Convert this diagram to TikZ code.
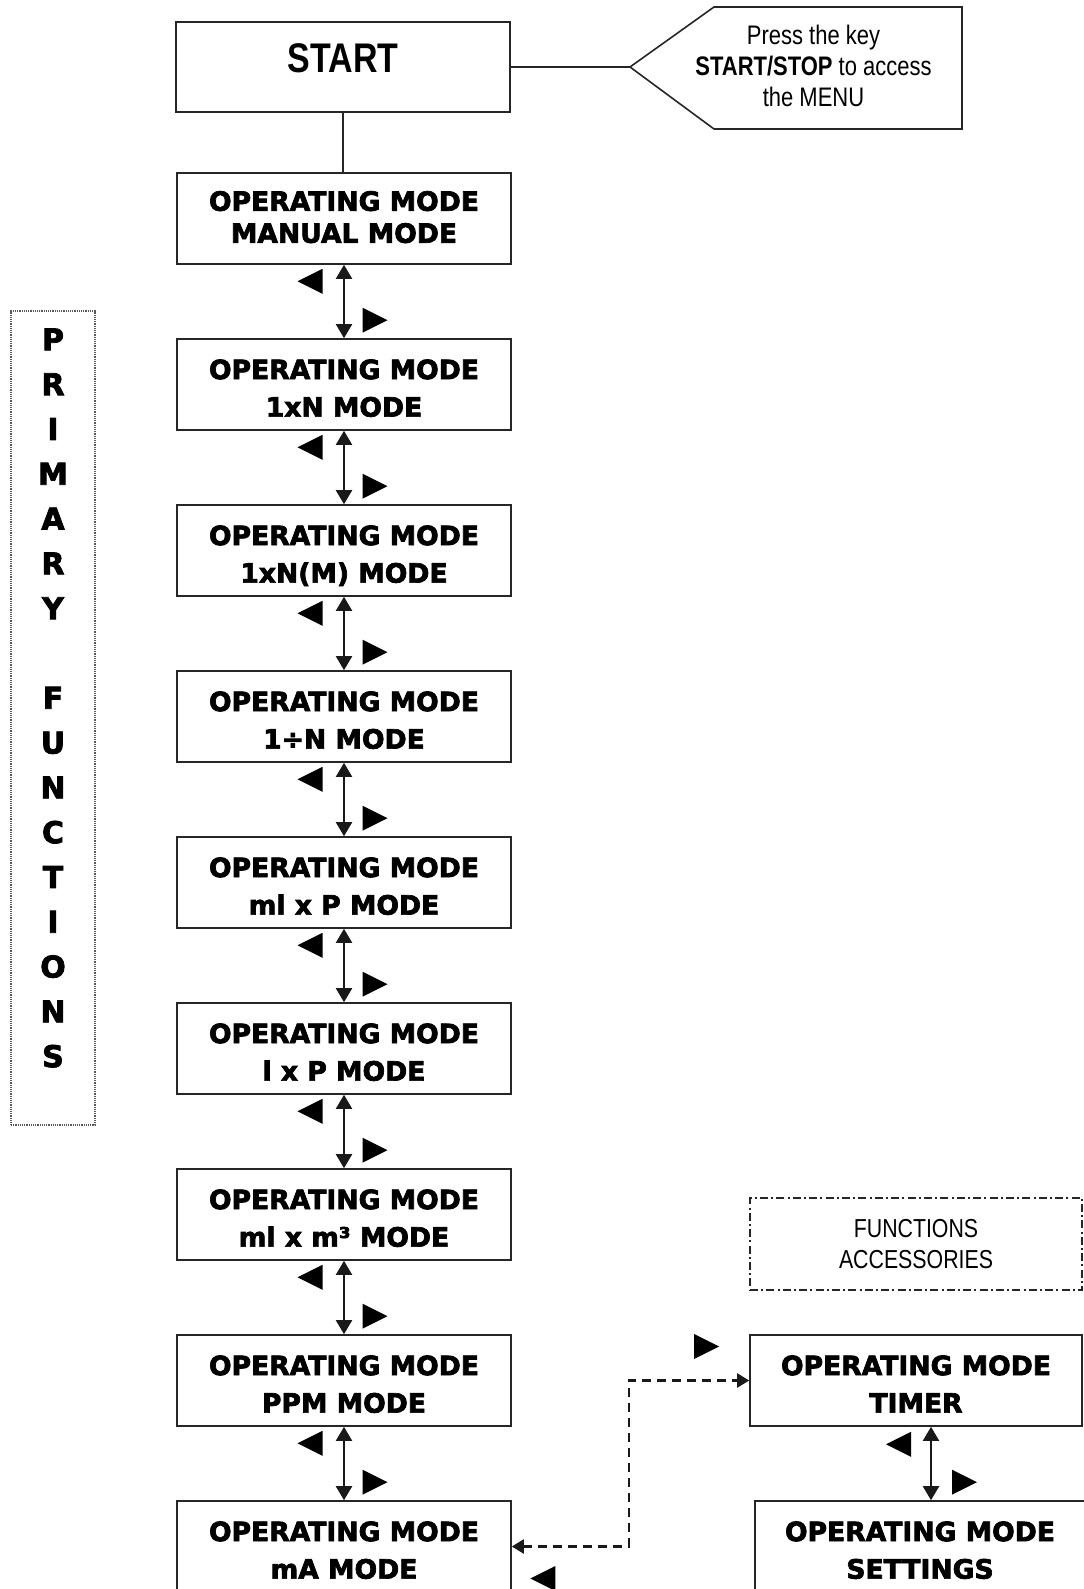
\documentclass[tikz,border=0pt]{standalone}
\usepackage{fontspec}
\setmainfont{Liberation Sans}
\newfontfamily\narrowfont{Liberation Sans}[FakeStretch=0.82]
\newfontfamily\heavyfont{DejaVu Sans}[BoldFeatures={FakeBold=2.6}]
\usetikzlibrary{arrows.meta,calc}

% two-line caption used in every operating-mode box
\newcommand\modetext[1]{\rule{0pt}{19pt}OPERATING MODE\\#1\strut}
% filled navigation triangles (left / right key symbols)
\newcommand\navleft[1]{\fill ($#1$) ++(-12.5,0) -- ++(25,-12.5) -- ++(0,25) -- cycle;}
\newcommand\navright[1]{\fill ($#1$) ++(12.5,0) -- ++(-25,-12.5) -- ++(0,25) -- cycle;}

\tikzset{
  frame/.style={draw=black!85, line width=0.8pt},
  modebox/.style={frame, minimum width=167pt, minimum height=45.5pt,
    inner sep=0pt, align=center,
    font=\heavyfont\bfseries\fontsize{13.3}{18.75}\selectfont},
  startbox/.style={frame, minimum width=167pt, minimum height=45pt,
    inner sep=0pt, text height=6pt, text depth=0pt,
    font=\narrowfont\bfseries\fontsize{20.7}{25}\selectfont},
  notetext/.style={align=center, inner sep=0pt,
    font=\narrowfont\fontsize{13.4}{15.5}\selectfont},
  groupdotted/.style={draw=black!65, line width=1pt,
    dash pattern=on 0.6pt off 0.5pt, minimum width=42pt, minimum height=407pt,
    inner sep=0pt},
  groupdashdot/.style={draw=black!85, line width=0.8pt,
    dash pattern=on 4pt off 1.6pt on 1pt off 1.6pt,
    minimum width=166pt, minimum height=46pt, inner sep=0pt, align=center,
    font=\narrowfont\fontsize{13}{15.5}\selectfont},
  navarrow/.style={line width=1pt, black!90,
    {Triangle[width=8pt,length=7pt]}-{Triangle[width=8pt,length=7pt]}},
  dashlink/.style={line width=1.1pt, black!90, dash pattern=on 4.5pt off 3pt,
    {Triangle[width=7pt,length=6pt]}-{Triangle[width=7pt,length=6pt]}},
}

\begin{document}
\begin{tikzpicture}[x=0.5pt, y=-0.5pt]
  \useasboundingbox (0,0) rectangle (1083,1589);
  \fill[white] (0,0) rectangle (1083,1589);

  % start box and its call-out note
  \node[startbox] (start) at (343,67) {START};
  \coordinate (tip) at (630,67);
  \draw[frame, line join=miter] (tip) -- (714,7) -- (962,7) -- (962,129) -- (714,129) -- cycle;
  \node[notetext] (note) at (813.5,65.5)
    {Press the key\\\textbf{START/STOP} to access\\the MENU};
  \draw[frame] (start.east) -- (tip);

  % chain of primary operating modes
  \node[modebox, font=\heavyfont\bfseries\fontsize{13.3}{16}\selectfont] (m1) at (344,218.5)
    {\rule{0pt}{13.1pt}OPERATING MODE\\MANUAL MODE\strut};
  \node[modebox] (m2) at (344,384.5) {\modetext{1xN MODE}};
  \node[modebox] (m3) at (344,550.5) {\modetext{1xN(M) MODE}};
  \node[modebox] (m4) at (344,716.5) {\modetext{1÷N MODE}};
  \node[modebox] (m5) at (344,882.5) {\modetext{ml x P MODE}};
  \node[modebox] (m6) at (344,1048.5) {\modetext{l x P MODE}};
  \node[modebox] (m7) at (344,1214.5) {\modetext{ml x m³ MODE}};
  \node[modebox] (m8) at (344,1380.5) {\modetext{PPM MODE}};
  \node[modebox] (ma) at (344,1546.5) {\modetext{mA MODE}};

  \draw[frame] (start.south) -- (start.south |- m1.north);

  \foreach \a/\b in {m1/m2, m2/m3, m3/m4, m4/m5, m5/m6, m6/m7, m7/m8, m8/ma}{
    \draw[navarrow] (\a.south) -- (\b.north);
    \navleft{(\a.south)+(-34,16.5)}
    \navright{(\b.north)+(31,-18)}
  }

  % group label on the left
  \node[groupdotted] (primary) at (53,718) {};
  \node[align=center, inner sep=0pt,
    font=\heavyfont\bfseries\fontsize{15}{22.4}\selectfont] (primarytext) at (53,698)
    {P\\R\\I\\M\\A\\R\\Y\\\mbox{}\\F\\U\\N\\C\\T\\I\\O\\N\\S};

  % accessory functions on the right
  \node[groupdashdot] (acc) at (916,1244) {FUNCTIONS\\ACCESSORIES};
  \node[modebox, minimum width=166pt] (timer) at (916,1380.5) {\modetext{TIMER}};
  \node[modebox, minimum width=165pt] (settings) at (920,1546.5) {\modetext{SETTINGS}};

  \coordinate (tsx) at (931,0);
  \draw[navarrow] (timer.south -| tsx) -- (settings.north -| tsx);
  \navleft{(timer.south -| tsx)+(-32.5,17.5)}
  \navright{(settings.north -| tsx)+(33.5,-18)}

  % link between mA mode and the accessory chain
  \coordinate (bend) at (629,0);
  \draw[dashlink] (ma.east) -- (ma.east -| bend) -- (timer.west -| bend) -- (timer.west);
  \navright{(timer.west)+(-42.5,-34)}
  \navleft{(ma.east)+(31,32)}
\end{tikzpicture}
\end{document}
